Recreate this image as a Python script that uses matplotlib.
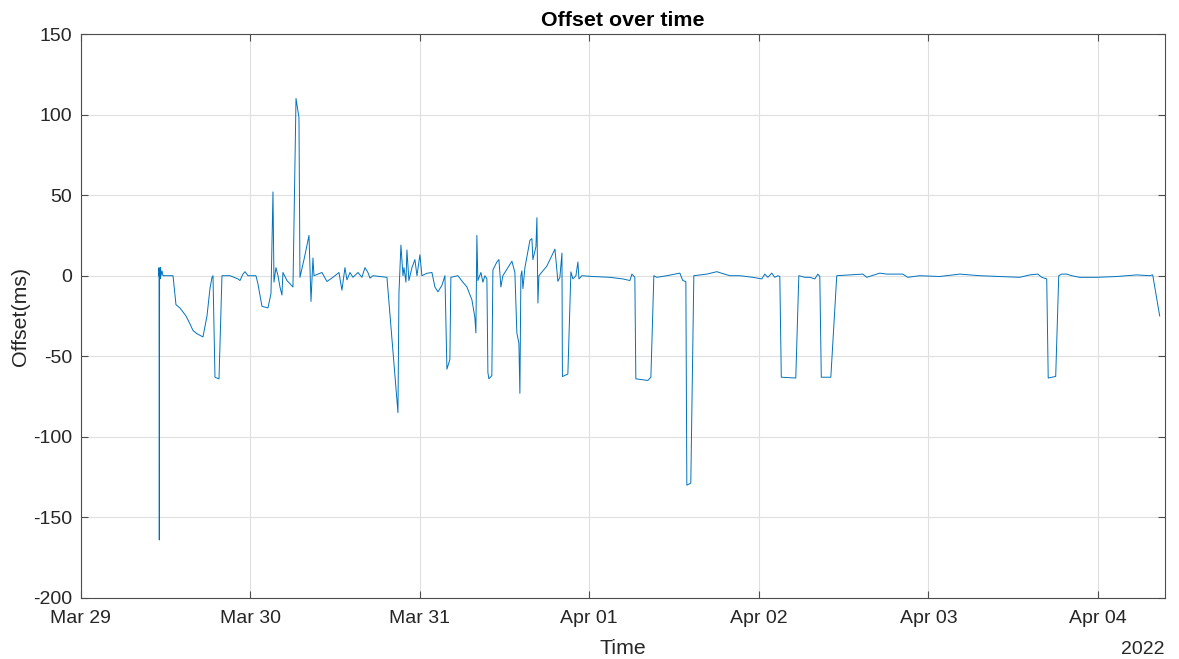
import datetime as dt

import matplotlib
matplotlib.use('agg')
import matplotlib.pyplot as plt
import matplotlib.dates as mdates

plt.rcParams['font.family'] = ['Liberation Sans', 'DejaVu Sans']
plt.rcParams['axes.unicode_minus'] = False

# offset samples: hours after 2022-03-29 00:00, offset in ms
hours = [11.04, 11.11, 11.15, 11.19, 11.25, 11.32, 11.39, 11.53, 11.67, 13.09,
         13.51, 14.07, 14.93, 15.50, 15.92, 16.48, 16.91, 17.33, 17.90, 18.32,
         18.61, 18.75, 19.03, 19.60, 20.02, 21.15, 22.29, 22.57, 22.99, 23.28,
         23.70, 24.83, 25.11, 25.68, 26.53, 26.96, 27.24, 27.38, 27.66, 27.95,
         28.23, 28.51, 28.65, 29.22, 30.07, 30.50, 30.92, 31.06, 31.63, 32.34,
         32.62, 32.90, 33.04, 34.17, 34.88, 35.73, 36.58, 37.00, 37.43, 37.71,
         38.14, 38.56, 39.27, 39.83, 40.26, 40.68, 40.97, 41.39, 43.37, 44.93,
         45.07, 45.35, 45.64, 45.78, 46.06, 46.20, 46.48, 46.91, 47.33, 47.62,
         48.04, 48.32, 49.03, 49.74, 50.16, 50.59, 51.15, 51.58, 51.86, 52.28,
         52.42, 53.41, 54.12, 54.69, 55.40, 55.82, 55.96, 56.10, 56.24, 56.67,
         56.95, 57.24, 57.52, 57.66, 57.80, 58.22, 58.37, 58.93, 59.22, 59.50,
         59.78, 61.06, 61.48, 61.76, 62.05, 62.19, 62.33, 62.47, 62.62, 62.90,
         63.61, 63.89, 64.03, 64.46, 64.60, 64.74, 64.88, 66.01, 67.15, 67.57,
         67.85, 68.14, 68.21, 68.98, 69.41, 69.69, 70.12, 70.40, 70.55, 70.97,
         72.52, 74.93, 76.77, 77.76, 78.04, 78.46, 78.60, 80.30, 80.73, 81.15,
         81.57, 82.99, 84.83, 85.25, 85.68, 85.82, 86.38, 86.81, 88.65, 90.06,
         90.77, 91.91, 93.32, 95.16, 96.43, 96.85, 97.28, 97.84, 98.27, 98.69,
         98.98, 99.19, 101.24, 101.67, 102.52, 103.23, 103.94, 104.36, 104.64, 104.85,
         106.20, 107.04, 110.72, 111.29, 113.13, 114.12, 116.38, 117.09, 118.79, 121.62,
         124.45, 127.28, 130.11, 132.94, 134.36, 135.49, 136.06, 136.76, 136.97, 138.03,
         138.46, 138.88, 139.59, 140.30, 141.43, 143.84, 146.67, 149.50, 151.34, 151.76,
         152.75]
offset_ms = [0, 5, -164, 4, -2, 5, 0, 3, 0, 0,
             -18, -20, -25, -30, -34, -36, -37, -38, -25, -8,
             -1, 0, -63, -64, 0, 0, -2, -3, 1, 2.5,
             0, 0, -5, -19, -20, -11, 52, -4, 5, 0,
             -7, -12, 2, -3, -7, 110, 98, -1, 10, 25,
             -16, 11, 0, 2, -3.6, -1, 2, -9, 5, -2.6,
             2, -1, 2, -1, 5, 2, -1.5, 0, -1, -85,
             -11, 19, 0, 5, -4, 16, -3, 5, 10, 0,
             13, 0, 1.5, 2, -7, -10, -6, 0, -58, -52,
             -1, 0, -4, -7, -15, -26, -35.5, 25, -3, 2,
             -4, 0, -2, -60, -64, -62, 3.6, 8.5, 10, -7,
             0, 9, 2, -35.5, -42, -73, 0, 3, -8, 5,
             22, 23, 10, 18, 36, -17, 0, 6, 16.5, -3.5,
             -1, 14, -62.6, -61, 2.4, -2, 0, 8.5, -2, 0,
             -0.5, -1, -2, -3, 1, -1, -64, -65, -63, 0,
             -1, 0, 1.6, -3, -3.6, -130, -128.7, 0, 1, 2.5,
             1.5, 0, 0, -1, -2, 1, -1, 1.6, -1, 0,
             -0.5, -63, -63.5, 0, -1, -1, -2, 1, -0.5, -63,
             -63, 0, 1, -1, 1.6, 1, 1, -1, 0, -0.5,
             1, 0, -0.5, -1, 0.5, 1, -1, -2, -63.5, -62.5,
             0, 1, 1, 0, -1, -1, -0.5, 0.5, 0, 0.5,
             -25]

start = dt.datetime(2022, 3, 29)
times = [start + dt.timedelta(hours=h) for h in hours]

fig = plt.figure(figsize=(11.79, 6.59), dpi=100)
ax = fig.add_axes([0.0683, 0.0926, 0.9197, 0.8558])

ax.plot(times, offset_ms, color='#0072BD', linewidth=0.7)

ax.set_xlim(start, start + dt.timedelta(days=6.395))
ax.set_ylim(-200, 150)
ax.set_yticks(range(-200, 151, 50))
ax.xaxis.set_major_locator(mdates.DayLocator())
ax.xaxis.set_major_formatter(mdates.DateFormatter('%b %d'))

ax.grid(True, color='#dfdfdf', linewidth=0.8)
ax.set_axisbelow(True)
for sp in ax.spines.values():
    sp.set_color('#4d4d4d')
    sp.set_linewidth(0.8)
ax.tick_params(direction='in', length=5, width=0.8, colors='#4d4d4d',
               top=True, right=True, labelsize=14, labelcolor='#262626')
ax.tick_params(axis='x', pad=9)
ax.tick_params(axis='y', pad=6)

ax.set_title('Offset over time', fontsize=15.4, fontweight='bold', color='black', pad=6)
ax.set_xlabel('Time', fontsize=15.4, color='#262626', labelpad=8)
ax.set_ylabel('Offset(ms)', fontsize=15.4, color='#262626', labelpad=2)
ax.text(1.0, -0.076, '2022', transform=ax.transAxes, ha='right', va='top',
        fontsize=14, color='#262626')

fig.savefig('out.png', dpi=100)
